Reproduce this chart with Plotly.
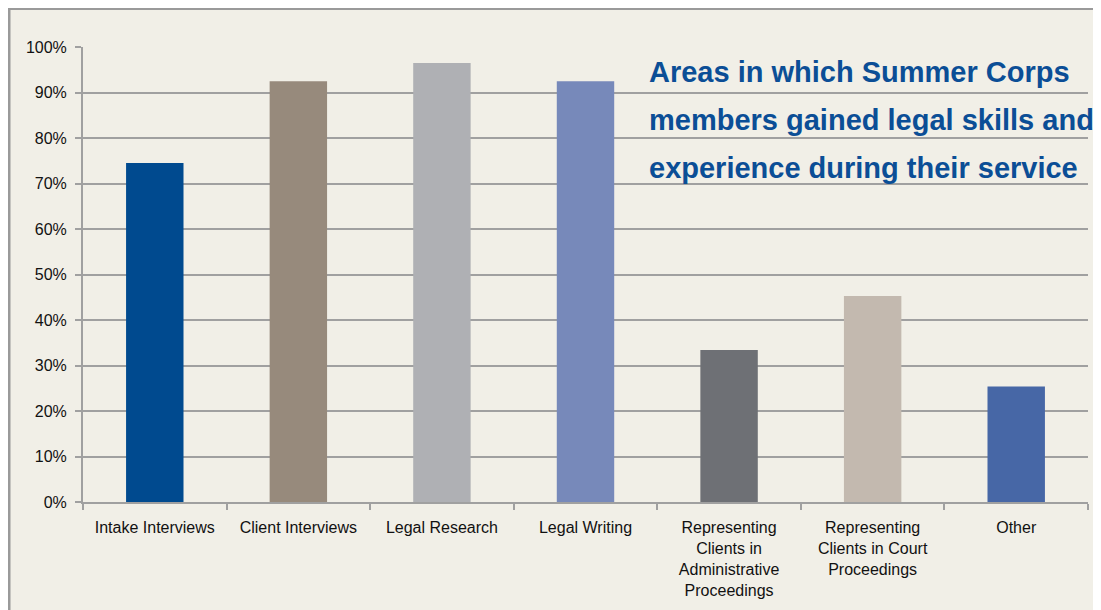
import plotly.graph_objects as go

categories = [
    "Intake Interviews",
    "Client Interviews",
    "Legal Research",
    "Legal Writing",
    "Representing<br>Clients in<br>Administrative<br>Proceedings",
    "Representing<br>Clients in Court<br>Proceedings",
    "Other",
]
values = [74.5, 92.5, 96.5, 92.5, 33.4, 45.3, 25.4]
bar_colors = ["#004A8F", "#978A7C", "#AFB0B4", "#7789BA", "#6E7075", "#C3B9AF", "#4767A6"]
title_lines = [
    "Areas in which Summer Corps",
    "members gained legal skills and",
    "experience during their service",
]
title_y = [94.5, 84.0, 73.5]
y_ticks = [0, 10, 20, 30, 40, 50, 60, 70, 80, 90, 100]

# page body has an 8px margin; size the figure to fill the rest of the window
W, H = 1093, 602
ml, mr, mt, mb = 75, 13, 39, 108
pw, ph = W - ml - mr, H - mt - mb

def px_to_paper_x(px):
    return (px - ml) / pw

def px_to_paper_y(py):
    return (H - mb - py) / ph

beige = "#F1EFE7"
grid = "#A0A0A0"
border = "#9A9A9A"

fig = go.Figure()
fig.add_trace(go.Bar(
    x=categories,
    y=values,
    marker=dict(color=bar_colors, line=dict(width=0)),
    width=0.4,
    hoverinfo="x+y",
))

# left and top border of the panel
fig.add_shape(type="line", xref="paper", yref="paper", layer="below",
              x0=px_to_paper_x(1), x1=px_to_paper_x(1),
              y0=px_to_paper_y(0), y1=px_to_paper_y(H + 5),
              line=dict(color=border, width=3))
fig.add_shape(type="line", xref="paper", yref="paper", layer="below",
              x0=px_to_paper_x(0), x1=px_to_paper_x(W + 5),
              y0=px_to_paper_y(0.5), y1=px_to_paper_y(0.5),
              line=dict(color=border, width=3))

for txt, yy in zip(title_lines, title_y):
    fig.add_annotation(
        text=txt, xref="paper", yref="y", x=px_to_paper_x(639), y=yy,
        xanchor="left", yanchor="middle", showarrow=False,
        font=dict(family="Liberation Sans, Arial, sans-serif", size=29, color="#0B4E96", weight="bold"),
    )

fig.update_layout(
    width=W, height=H,
    margin=dict(l=ml, r=mr, t=mt, b=mb, pad=0),
    paper_bgcolor=beige,
    plot_bgcolor=beige,
    showlegend=False,
    bargap=0.6,
    font=dict(family="Liberation Sans, Arial, sans-serif", size=16, color="#111111"),
    xaxis=dict(
        showgrid=False, showline=True, linecolor=grid, linewidth=2,
        ticks="outside", tickson="boundaries", ticklen=6, tickcolor=grid, tickwidth=2,
        ticklabelstandoff=10,
        tickfont=dict(size=16, color="#111111"), fixedrange=True,
    ),
    yaxis=dict(
        range=[0, 100], tickvals=y_ticks, ticktext=[f"{v}%" for v in y_ticks],
        showgrid=True, gridcolor=grid, gridwidth=2,
        showline=True, linecolor=grid, linewidth=2,
        ticks="outside", ticklen=6, tickcolor=grid, tickwidth=2,
        ticklabelstandoff=5,
        tickfont=dict(size=16, color="#111111"), zeroline=False, fixedrange=True,
    ),
)

fig.write_html("out.html")
